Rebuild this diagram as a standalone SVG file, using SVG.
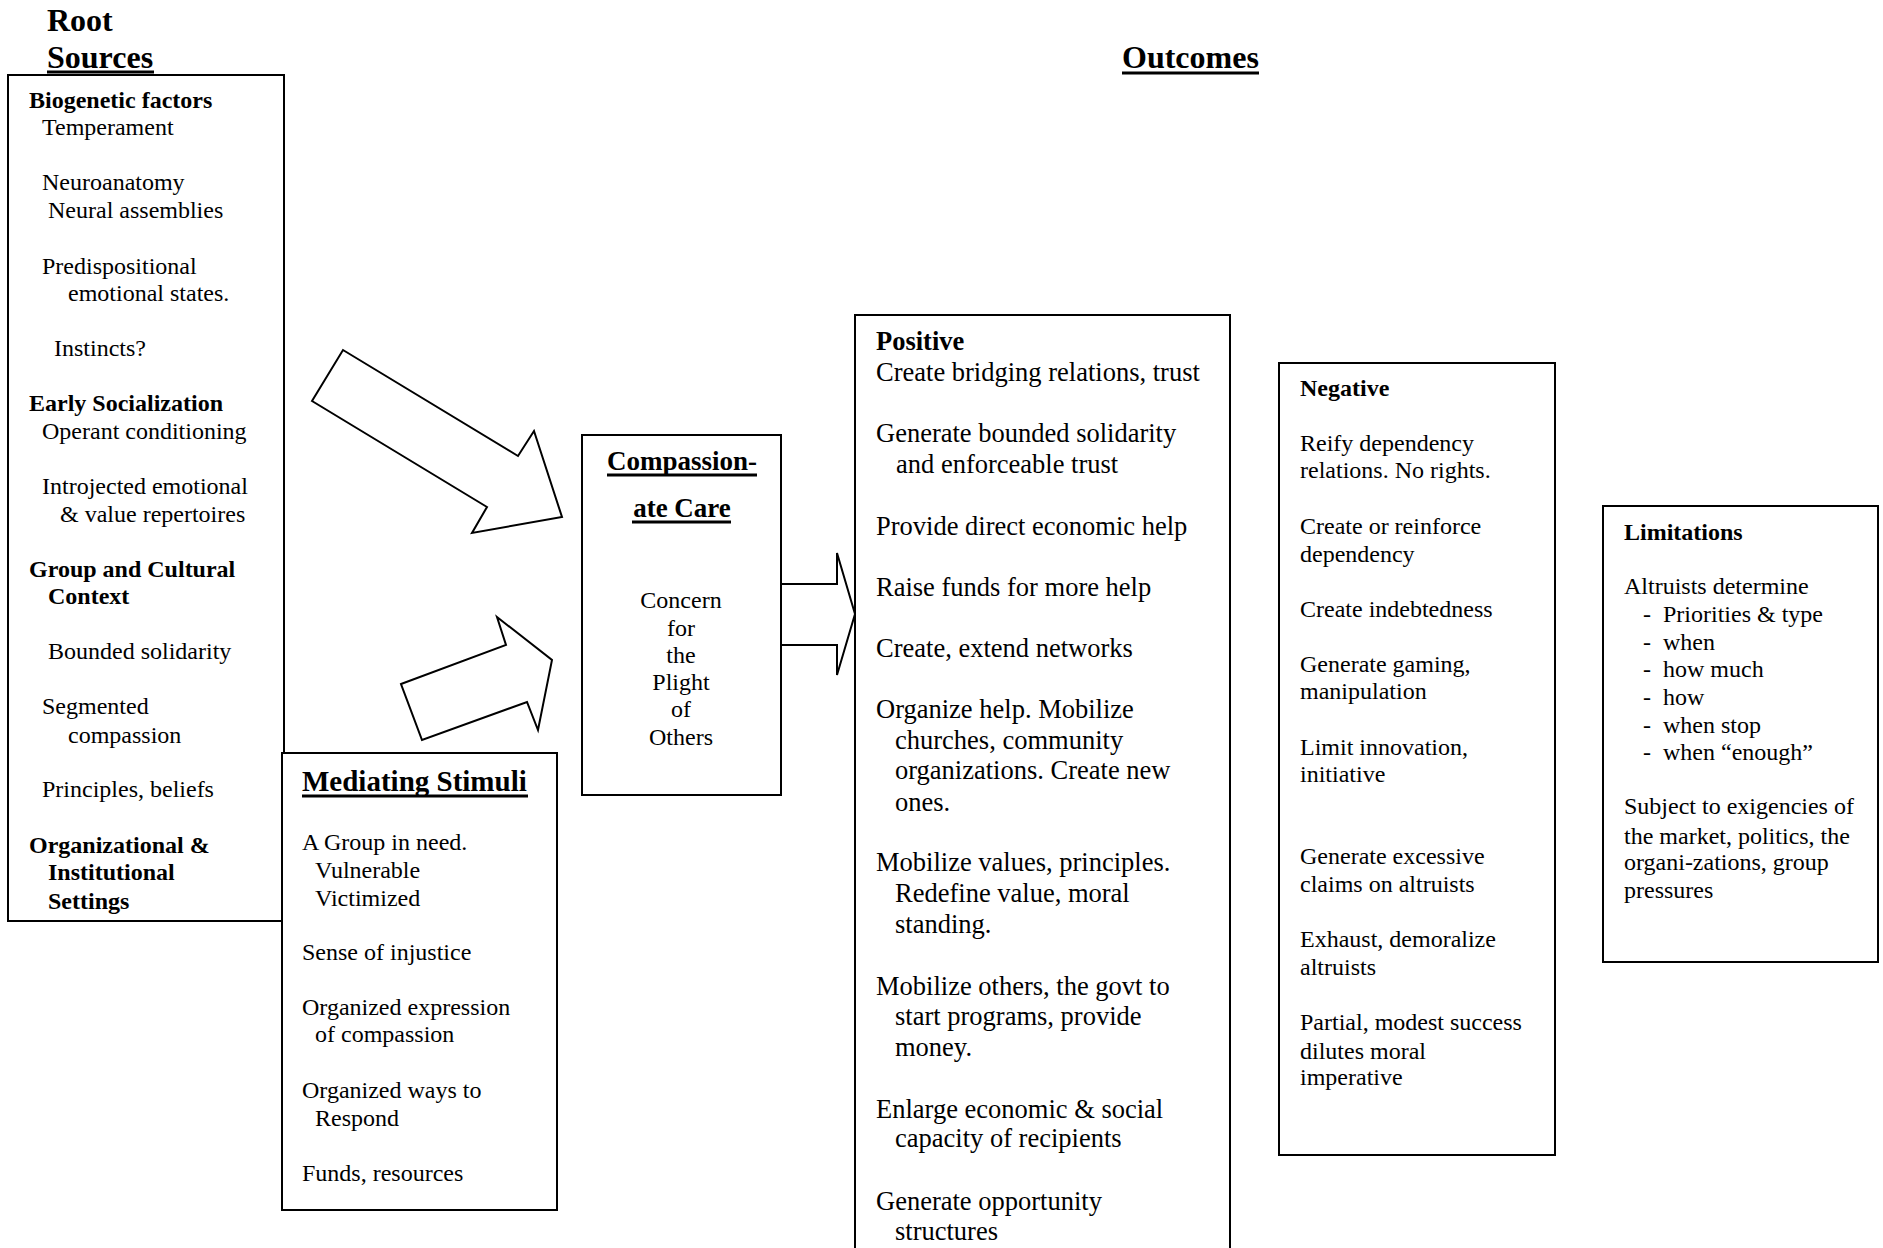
<svg xmlns="http://www.w3.org/2000/svg" width="1883" height="1248" viewBox="0 0 1883 1248">
<style>
text{font-family:"Liberation Serif","Times New Roman",serif;font-size:24px;fill:#000}
.b{font-weight:bold}
.h{font-weight:bold;font-size:32px}
.p{font-size:26.5px}
.box{fill:#fff;stroke:#000;stroke-width:2}
.arr{fill:#fff;stroke:#000;stroke-width:2;stroke-linejoin:miter}
.ul{stroke:#000;stroke-width:3}
.c{text-anchor:middle}
</style>
<rect width="1883" height="1248" fill="#fff"/>
<g id="titles">
<text class="h" x="47" y="31">Root</text>
<text class="h" x="47" y="68">Sources</text>
<line class="ul" x1="47" y1="72" x2="154" y2="72"/>
<text class="h" x="1122" y="68">Outcomes</text>
<line class="ul" x1="1122" y1="73" x2="1259" y2="73"/>
</g>
<g id="root-sources">
<rect class="box" x="8" y="75" width="276" height="846"/>
<text class="b" x="29" y="108">Biogenetic factors</text>
<text x="42" y="135">Temperament</text>
<text x="42" y="190">Neuroanatomy</text>
<text x="48" y="218">Neural assemblies</text>
<text x="42" y="274">Predispositional</text>
<text x="68" y="301">emotional states.</text>
<text x="54" y="356">Instincts?</text>
<text class="b" x="29" y="411">Early Socialization</text>
<text x="42" y="439">Operant conditioning</text>
<text x="42" y="494">Introjected emotional</text>
<text x="60" y="522">&amp; value repertoires</text>
<text class="b" x="29" y="577">Group and Cultural</text>
<text class="b" x="48" y="604">Context</text>
<text x="48" y="659">Bounded solidarity</text>
<text x="42" y="714">Segmented</text>
<text x="68" y="743">compassion</text>
<text x="42" y="797">Principles, beliefs</text>
<text class="b" x="29" y="853">Organizational &amp;</text>
<text class="b" x="48" y="880">Institutional</text>
<text class="b" x="48" y="909">Settings</text>
</g>
<g id="mediating-stimuli">
<rect class="box" x="282" y="753" width="275" height="457"/>
<text class="b" x="302" y="791" style="font-size:29px">Mediating Stimuli</text>
<line class="ul" x1="302" y1="796" x2="528" y2="796"/>
<text x="302" y="850">A Group in need.</text>
<text x="315" y="878">Vulnerable</text>
<text x="315" y="906">Victimized</text>
<text x="302" y="960">Sense of injustice</text>
<text x="302" y="1015">Organized expression</text>
<text x="315" y="1042">of compassion</text>
<text x="302" y="1098">Organized ways to</text>
<text x="315" y="1126">Respond</text>
<text x="302" y="1181">Funds, resources</text>
</g>
<g id="compassionate-care">
<rect class="box" x="582" y="435" width="199" height="360"/>
<text class="b c" x="682" y="470" style="font-size:27px">Compassion-</text>
<line class="ul" x1="607" y1="475" x2="757" y2="475"/>
<text class="b c" x="682" y="517" style="font-size:27px">ate Care</text>
<line class="ul" x1="632" y1="522" x2="731" y2="522"/>
<text class="c" x="681" y="608">Concern</text>
<text class="c" x="681" y="636">for</text>
<text class="c" x="681" y="663">the</text>
<text class="c" x="681" y="690">Plight</text>
<text class="c" x="681" y="717">of</text>
<text class="c" x="681" y="745">Others</text>
</g>
<g id="positive">
<rect class="box" x="855" y="315" width="375" height="960"/>
<text class="b p" x="876" y="350">Positive</text>
<text class="p" x="876" y="381">Create bridging relations, trust</text>
<text class="p" x="876" y="442">Generate bounded solidarity</text>
<text class="p" x="896" y="473">and enforceable trust</text>
<text class="p" x="876" y="535">Provide direct economic help</text>
<text class="p" x="876" y="596">Raise funds for more help</text>
<text class="p" x="876" y="657">Create, extend networks</text>
<text class="p" x="876" y="718">Organize help. Mobilize</text>
<text class="p" x="895" y="749">churches, community</text>
<text class="p" x="895" y="779">organizations. Create new</text>
<text class="p" x="895" y="811">ones.</text>
<text class="p" x="876" y="871">Mobilize values, principles.</text>
<text class="p" x="895" y="902">Redefine value, moral</text>
<text class="p" x="895" y="933">standing.</text>
<text class="p" x="876" y="995">Mobilize others, the govt to</text>
<text class="p" x="895" y="1025">start programs, provide</text>
<text class="p" x="895" y="1056">money.</text>
<text class="p" x="876" y="1118">Enlarge economic &amp; social</text>
<text class="p" x="895" y="1147">capacity of recipients</text>
<text class="p" x="876" y="1210">Generate opportunity</text>
<text class="p" x="895" y="1240">structures</text>
</g>
<g id="negative">
<rect class="box" x="1279" y="363" width="276" height="792"/>
<text class="b" x="1300" y="396">Negative</text>
<text x="1300" y="451">Reify dependency</text>
<text x="1300" y="478">relations. No rights.</text>
<text x="1300" y="534">Create or reinforce</text>
<text x="1300" y="562">dependency</text>
<text x="1300" y="617">Create indebtedness</text>
<text x="1300" y="672">Generate gaming,</text>
<text x="1300" y="699">manipulation</text>
<text x="1300" y="755">Limit innovation,</text>
<text x="1300" y="782">initiative</text>
<text x="1300" y="864">Generate excessive</text>
<text x="1300" y="892">claims on altruists</text>
<text x="1300" y="947">Exhaust, demoralize</text>
<text x="1300" y="975">altruists</text>
<text x="1300" y="1030">Partial, modest success</text>
<text x="1300" y="1059">dilutes moral</text>
<text x="1300" y="1085">imperative</text>
</g>
<g id="limitations">
<rect class="box" x="1603" y="506" width="275" height="456"/>
<text class="b" x="1624" y="540">Limitations</text>
<text x="1624" y="594">Altruists determine</text>
<text x="1643" y="622">-</text><text x="1663" y="622">Priorities &amp; type</text>
<text x="1643" y="650">-</text><text x="1663" y="650">when</text>
<text x="1643" y="677">-</text><text x="1663" y="677">how much</text>
<text x="1643" y="705">-</text><text x="1663" y="705">how</text>
<text x="1643" y="733">-</text><text x="1663" y="733">when stop</text>
<text x="1643" y="760">-</text><text x="1663" y="760">when “enough”</text>
<text x="1624" y="814">Subject to exigencies of</text>
<text x="1624" y="844">the market, politics, the</text>
<text x="1624" y="870">organi-zations, group</text>
<text x="1624" y="898">pressures</text>
</g>
<g id="connectors">
<polygon class="arr" points="312,401 343,350 518,456 534,431 562,517 472,533 487,507"/>
<polygon class="arr" points="401,684 506,645 497,617 552,660 538,730 527,702 422,740"/>
<path class="arr" d="M782,584 H837 V553 L855,614 L837,675 V645 H782"/>
</g>
</svg>
